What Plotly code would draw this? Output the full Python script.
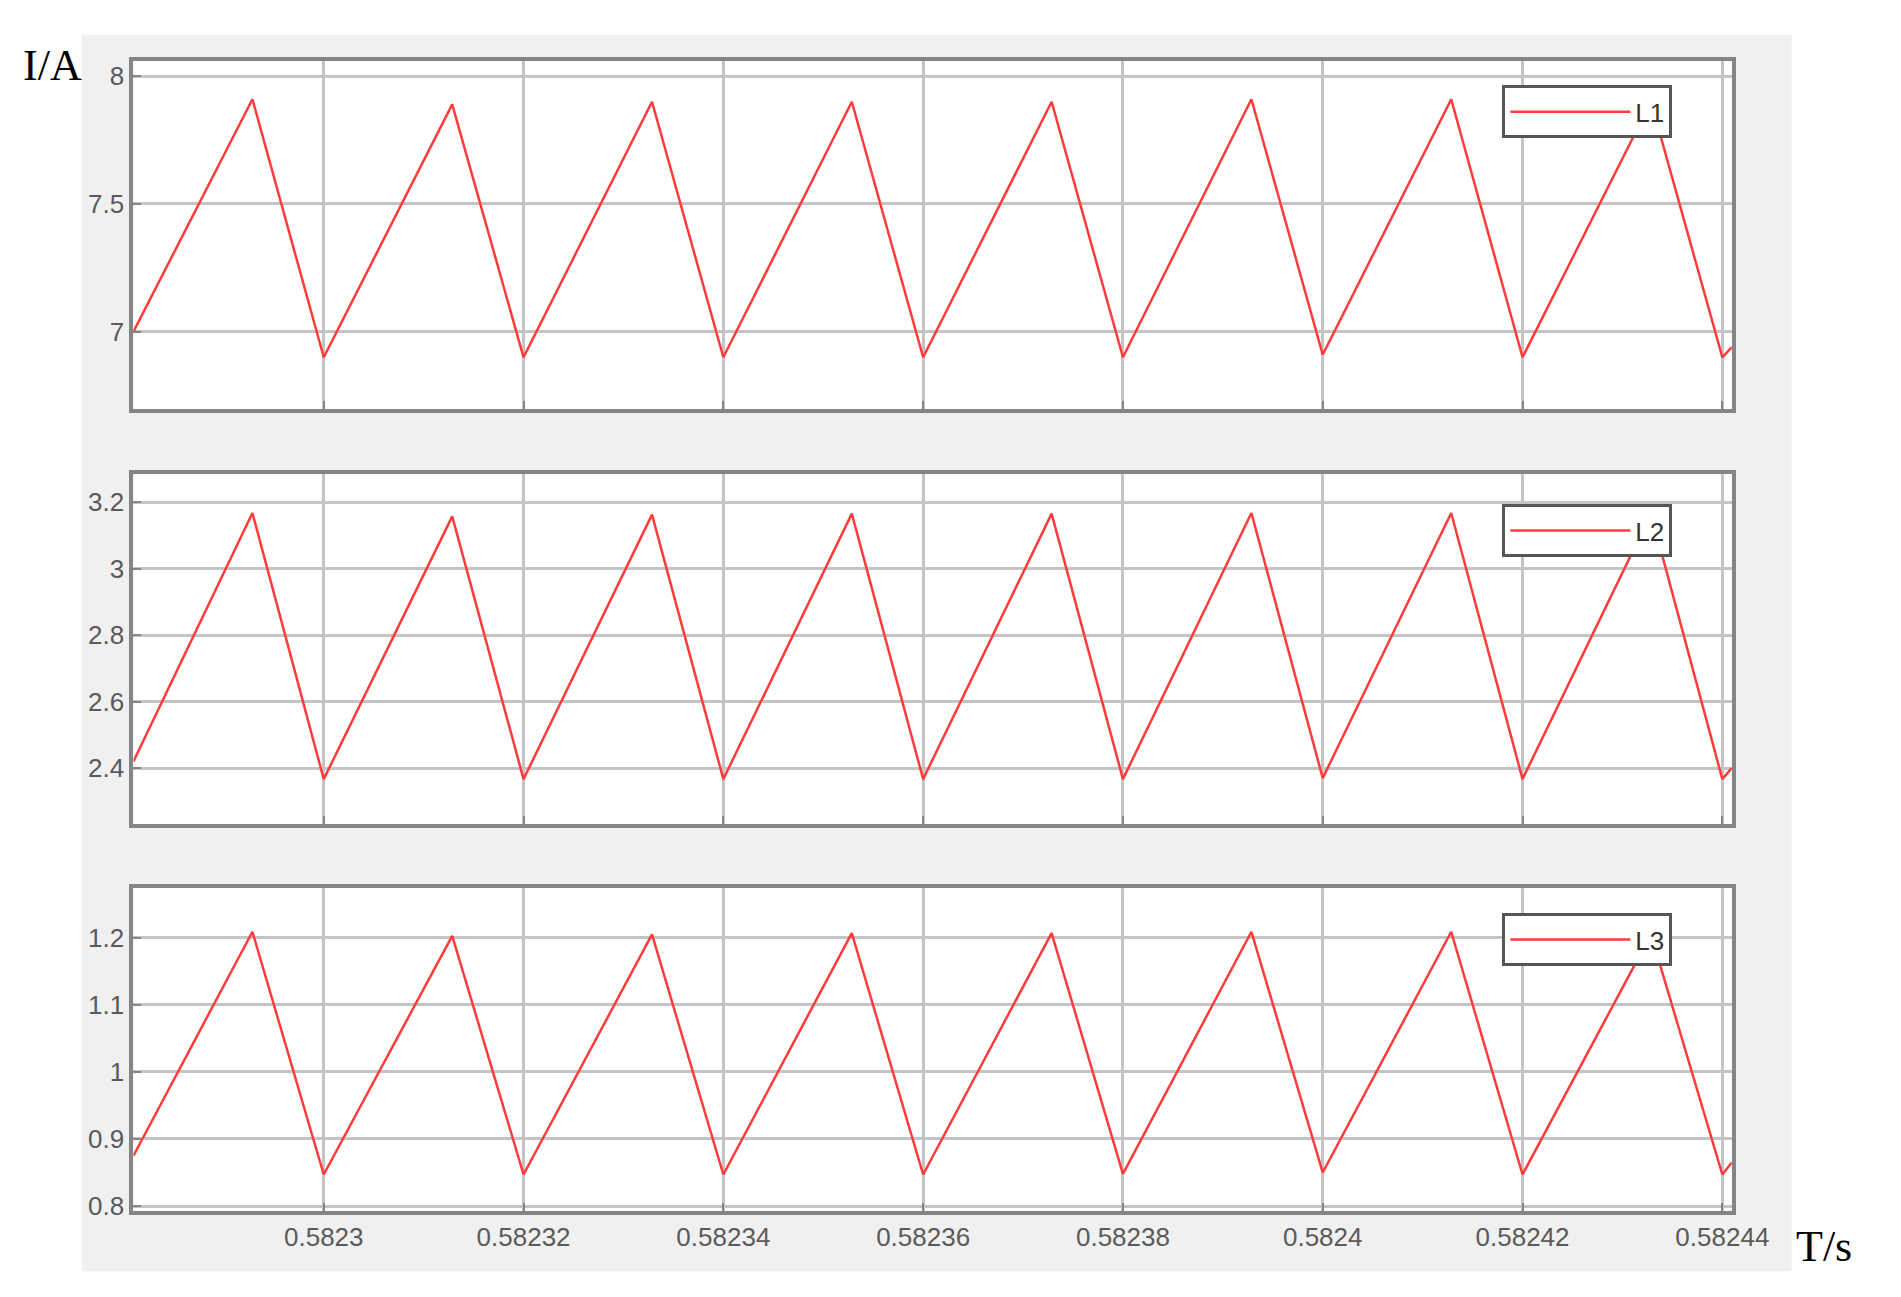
import plotly.graph_objects as go

t = [0.58228095, 0.58229286, 0.5823, 0.58231286, 0.58232, 0.58233286, 0.58234, 0.58235286,
     0.58236, 0.58237286, 0.58238, 0.58239286, 0.5824, 0.58241286, 0.58242, 0.58243286,
     0.58244, 0.58244095]
L1 = [7.00, 7.91, 6.90, 7.89, 6.90, 7.90, 6.90, 7.90, 6.90, 7.90, 6.90, 7.91, 6.91, 7.91,
      6.90, 7.90, 6.90, 6.94]
L2 = [2.42, 3.167, 2.367, 3.157, 2.367, 3.162, 2.367, 3.165, 2.367, 3.165, 2.367, 3.167,
      2.370, 3.167, 2.367, 3.165, 2.367, 2.40]
L3 = [0.875, 1.209, 0.847, 1.203, 0.847, 1.205, 0.847, 1.207, 0.847, 1.207, 0.848, 1.209,
      0.850, 1.209, 0.847, 1.205, 0.847, 0.865]
names = ["L1", "L2", "L3"]
series = [L1, L2, L3]
yranges = [[6.698, 8.061], [2.233, 3.283], [0.793, 1.274]]
yticks = [[7, 7.5, 8], [2.4, 2.6, 2.8, 3, 3.2], [0.8, 0.9, 1, 1.1, 1.2]]
xticks = [0.5823, 0.58232, 0.58234, 0.58236, 0.58238, 0.5824, 0.58242, 0.58244]
xticktext = ["0.5823", "0.58232", "0.58234", "0.58236", "0.58238", "0.5824", "0.58242", "0.58244"]

domains = [[0.6885, 0.9591], [0.3662, 0.6376], [0.0655, 0.3161]]
legend_y = [0.9399, 0.6145, 0.2968]

fig = go.Figure()
tickfont = dict(family="Liberation Sans", size=26, color="#5a5a5a")
fig.add_shape(type="rect", xref="paper", yref="paper", x0=0.0395, x1=0.9569, y0=0.0185, y1=0.9792,
              fillcolor="#f0f0f0", line=dict(width=0), layer="below")
for i in range(3):
    n = "" if i == 0 else str(i + 1)
    fig.add_trace(go.Scatter(x=t, y=series[i], mode="lines", name=names[i],
                             line=dict(color="#ff3b3b", width=2.5),
                             xaxis="x" + n, yaxis="y" + n, legend="legend" + n))
    axcommon = dict(showline=True, mirror=True, linecolor="#858585", linewidth=4,
                    showgrid=True, gridcolor="#c4c4c4", gridwidth=2.5, zeroline=False,
                    ticks="inside", ticklen=8, tickcolor="#858585", tickwidth=2, tickfont=tickfont,
                    layer="above traces")
    fig.layout["xaxis" + n] = dict(axcommon, domain=[0.0673, 0.9248], range=[t[0], t[-1]],
                                   tickvals=xticks, ticktext=xticktext,
                                   showticklabels=(i == 2), anchor="y" + n)
    fig.layout["yaxis" + n] = dict(axcommon, domain=domains[i], range=yranges[i],
                                   tickvals=yticks[i], anchor="x" + n)
    fig.layout["legend" + n] = dict(x=0.8017, y=legend_y[i], xanchor="left", yanchor="top",
                                    bgcolor="white", bordercolor="#555555", borderwidth=3,
                                    itemwidth=120, font=dict(family="Liberation Sans", size=26, color="#333"))
    fig.add_shape(type="rect", xref="x" + n + " domain", yref="y" + n + " domain",
                  x0=0, x1=1, y0=0, y1=1, fillcolor="white", line=dict(width=0), layer="below")

fig.add_annotation(text="I/A", xref="paper", yref="paper", x=0.007, y=0.955, xanchor="left", yanchor="middle",
                   showarrow=False, font=dict(family="Liberation Serif", size=44, color="black"))
fig.add_annotation(text="T/s", xref="paper", yref="paper", x=0.958, y=0.038, xanchor="left", yanchor="middle",
                   showarrow=False, font=dict(family="Liberation Serif", size=44, color="black"))
fig.update_layout(width=1901, height=1297, margin=dict(l=0, r=0, t=0, b=0),
                  paper_bgcolor="white", plot_bgcolor="white", showlegend=True)
fig.write_html("out.html")
